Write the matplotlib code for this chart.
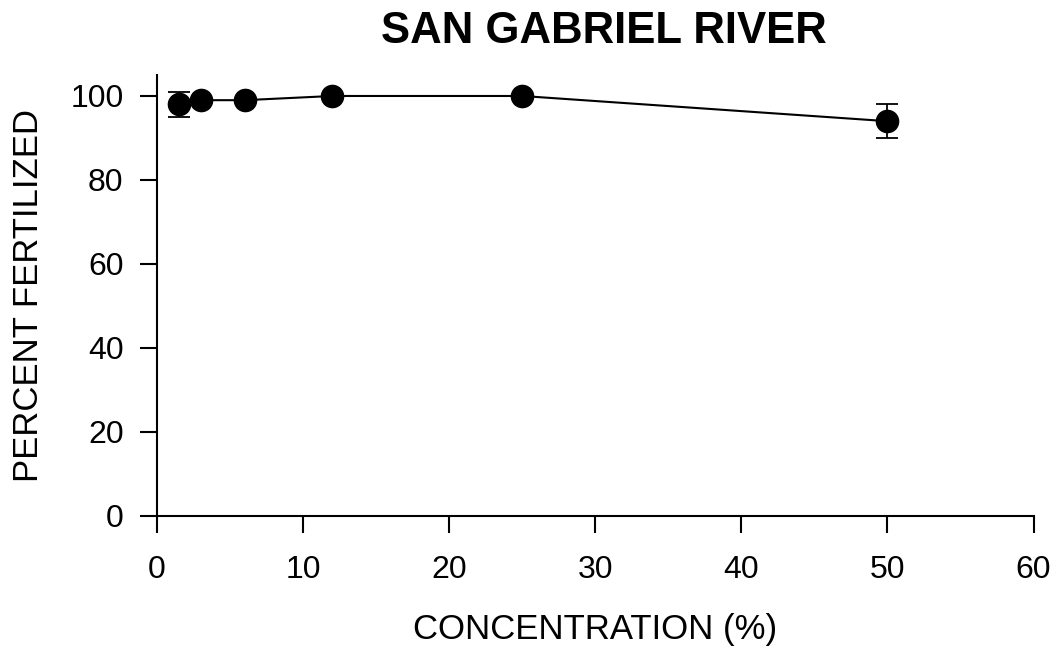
import matplotlib.pyplot as plt

plt.rcParams['font.family'] = ['Liberation Sans', 'DejaVu Sans']

# Концентрация и процент оплодотворения
conc = [1.5, 3, 6, 12, 25, 50]
fert = [98, 99, 99, 100, 100, 94]
fert_sd = [3, 0, 0, 0, 0, 4]

fig = plt.figure(figsize=(10.6, 6.52), dpi=100)
ax = fig.add_axes([0.148, 0.2086, 0.827, 0.6764])

ax.errorbar(conc, fert, yerr=fert_sd, color='black', marker='o', markersize=16,
            linewidth=1.5, elinewidth=1.3, capsize=8, capthick=1.3)

ax.set_xlim(0, 60)
ax.set_ylim(0, 105)
ax.set_xticks(range(0, 61, 10))
ax.set_yticks(range(0, 101, 20))
ax.spines['top'].set_visible(False)
ax.spines['right'].set_visible(False)
for s in ('left', 'bottom'):
    ax.spines[s].set_linewidth(1.5)
ax.tick_params(direction='out', length=12, width=1.5, labelsize=23)
ax.tick_params(axis='x', pad=16)
ax.tick_params(axis='y', pad=12)

ax.set_xlabel('CONCENTRATION (%)', fontsize=25, labelpad=20)
ax.set_ylabel('PERCENT FERTILIZED', fontsize=25, labelpad=18)
ax.set_title('SAN GABRIEL RIVER', fontsize=31.5, fontweight='bold', pad=23, x=0.51)

fig.savefig('out.png')
